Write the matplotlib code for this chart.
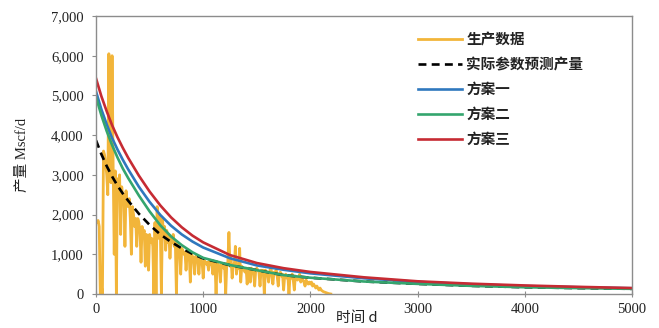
import numpy as np
import matplotlib
matplotlib.use('Agg')
import matplotlib.pyplot as plt
from matplotlib.ticker import FuncFormatter

# production data (time step 10 d)
t_prod = np.arange(0, 2191, 10)
q_prod = [1850, 1800, 1850, 1700, 0, 200, 0, 3600, 3500, 3300,
          3000, 2500, 6050, 3000, 2800, 6000, 3200, 1000, 3100, 0,
          2900, 2600, 3000, 1500, 2700, 2400, 2500, 1200, 2600, 2300,
          2200, 2400, 1900, 1000, 2200, 2000, 1700, 1900, 1200, 1900,
          1800, 1600, 800, 1700, 1500, 1600, 700, 1500, 1400, 600,
          1500, 1300, 1400, 1200, 0, 1800, 0, 2200, 1400, 2000,
          1600, 0, 1900, 1500, 1700, 1100, 1600, 1300, 1500, 900,
          1400, 1300, 1500, 1200, 1300, 0, 1250, 1200, 1100, 500,
          1150, 1100, 1000, 1050, 600, 1000, 1050, 950, 300, 1000,
          950, 900, 500, 950, 900, 850, 500, 900, 850, 800,
          400, 850, 800, 750, 800, 600, 850, 750, 800, 500,
          800, 750, 0, 800, 750, 700, 300, 750, 700, 650,
          700, 0, 750, 800, 1550, 700, 900, 400, 750, 700,
          1200, 500, 700, 650, 1150, 300, 700, 650, 600, 550,
          650, 250, 650, 600, 300, 650, 600, 550, 200, 600,
          650, 600, 550, 200, 600, 550, 600, 0, 600, 550,
          500, 300, 550, 700, 500, 250, 550, 500, 600, 450,
          200, 500, 550, 450, 500, 100, 450, 500, 400, 450,
          0, 450, 400, 500, 350, 100, 450, 400, 350, 400,
          500, 300, 400, 350, 300, 200, 350, 300, 250, 300,
          250, 300, 200, 250, 200, 150, 200, 150, 100, 150,
          100, 80, 60, 50, 40, 30, 20, 10, 5, 0]

# forecast curves
t_fc = [0, 50, 100, 150, 200, 250, 300, 400, 500, 600, 700, 800, 900, 1000,
        1250, 1500, 1750, 2000, 2500, 3000, 3500, 4000, 4500, 5000]
q_actual = [3870, 3520, 3220, 2960, 2730, 2530, 2350, 2020, 1740, 1500, 1310, 1150, 1010, 895,
            725, 600, 475, 410, 315, 255, 205, 170, 148, 130]
q_plan1 = [5100, 4650, 4270, 3930, 3640, 3380, 3140, 2700, 2320, 1990, 1720, 1500, 1320, 1170,
           900, 720, 610, 520, 395, 305, 245, 200, 170, 145]
q_plan2 = [4960, 4500, 4100, 3750, 3440, 3160, 2920, 2480, 2080, 1730, 1450, 1230, 1050, 910,
           730, 600, 475, 410, 315, 255, 205, 170, 148, 130]
q_plan3 = [5430, 4980, 4600, 4250, 3950, 3680, 3430, 2980, 2580, 2230, 1930, 1680, 1470, 1300,
           980, 780, 650, 555, 420, 320, 260, 215, 180, 150]

labels = ['生产数据', '实际参数预测产量', '方案一', '方案二', '方案三']

serif = ['Liberation Serif', 'Noto Sans CJK SC']
cjk = ['Noto Sans CJK SC', 'DejaVu Sans']

fig = plt.figure(figsize=(6.59, 3.28), dpi=100)
ax = fig.add_axes([96/659, 1-294/328, (632-96)/659, (294-16)/328])

ax.plot(t_prod, q_prod, color='#F2B53A', lw=2.0, label=labels[0])
ax.plot(t_fc, q_actual, color='black', lw=1.9, ls=(0, (3, 2)), label=labels[1])
ax.plot(t_fc, q_plan1, color='#2F78BE', lw=1.9, label=labels[2])
ax.plot(t_fc, q_plan2, color='#34A56E', lw=1.9, label=labels[3])
ax.plot(t_fc, q_plan3, color='#C62B33', lw=1.9, label=labels[4])

ax.set_xlim(0, 5000)
ax.set_ylim(0, 7000)
ax.set_xticks([0, 1000, 2000, 3000, 4000, 5000])
ax.set_yticks(np.arange(0, 7001, 1000))
ax.yaxis.set_major_formatter(FuncFormatter(lambda v, p: '{:,.0f}'.format(v)))

for s in ax.spines.values():
  s.set_color('#8c8c8c')
  s.set_linewidth(1.0)
ax.tick_params(axis='x', direction='inout', length=5, color='#8c8c8c', pad=4)
ax.tick_params(axis='y', direction='out', length=3, color='#8c8c8c', pad=6)
for lab in ax.get_xticklabels() + ax.get_yticklabels():
  lab.set_family(serif)
  lab.set_fontsize(10.5)
  lab.set_color('#222222')

fig.text(22/659, 1-155/328, '产量 Mscf/d', rotation=90, ha='center', va='center',
         family=serif, fontsize=10.5, color='#222222')
fig.text(357/659, 1-318/328, '时间 d', ha='center', va='center',
         family=cjk, fontsize=10.5, color='#222222')

leg = ax.legend(loc='upper left', bbox_to_anchor=(418/659, 1-31/328),
                bbox_transform=fig.transFigure, frameon=False, borderpad=0,
                borderaxespad=0, handlelength=3.0, handletextpad=0.3,
                labelspacing=0.62, prop={'family': cjk, 'size': 10.5, 'weight': 'bold'})
for txt in leg.get_texts():
  txt.set_color('#222222')

fig.savefig('out.png', dpi=100)
